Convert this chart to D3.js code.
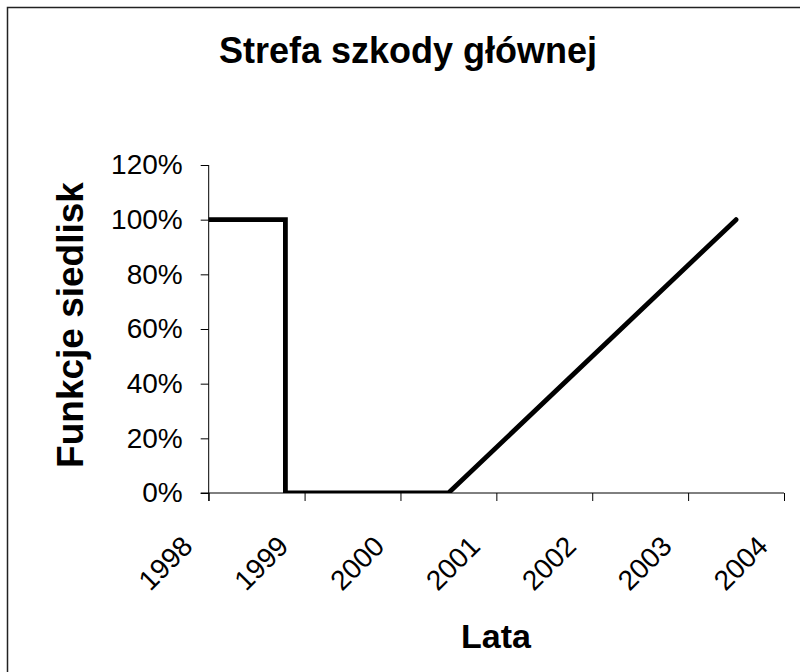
<!DOCTYPE html>
<html>
<head>
<meta charset="utf-8">
<script src="https://cdn.jsdelivr.net/npm/d3@7"></script>
<style>
  html, body { margin: 0; padding: 0; background: #fff; }
  svg { display: block; font-family: "Liberation Sans", Arial, sans-serif; }
</style>
</head>
<body>
<svg id="chart" width="800" height="672"></svg>
<script>
// Habitat function over time in the main damage zone
const years = [1998, 1998.8, 1998.8, 2000.5, 2003.5];
const habitatFunction = [1.0, 1.0, 0.0, 0.0, 1.0];
const yearTicks = [1998, 1999, 2000, 2001, 2002, 2003, 2004];
const percentTicks = [0, 0.2, 0.4, 0.6, 0.8, 1.0, 1.2];

const titleText = "Strefa szkody głównej";
const xTitle = "Lata";
const yTitle = "Funkcje siedlisk";

const svg = d3.select("#chart");
const W = 800, H = 672;
const plot = { left: 208.7, right: 784, top: 165, bottom: 493 };

// outer frame
svg.append("rect")
  .attr("x", 7.5).attr("y", 7.5)
  .attr("width", W).attr("height", H)
  .attr("fill", "none").attr("stroke", "#222").attr("stroke-width", 1.5);

const x = d3.scaleLinear().domain([1998, 2004]).range([plot.left, plot.right]);
const y = d3.scaleLinear().domain([0, 1.2]).range([plot.bottom, plot.top]);

// title
svg.append("text")
  .attr("x", 408).attr("y", 63)
  .attr("text-anchor", "middle")
  .attr("font-size", 36).attr("font-weight", "bold")
  .text(titleText);

// clip the series to the plot area
svg.append("clipPath").attr("id", "plotClip")
  .append("rect")
  .attr("x", plot.left).attr("y", plot.top - 10)
  .attr("width", plot.right - plot.left + 10)
  .attr("height", plot.bottom - plot.top + 10);

// y axis
const yAxis = d3.axisLeft(y)
  .tickValues(percentTicks)
  .tickFormat(d3.format(".0%"))
  .tickSize(8).tickPadding(18);
const gy = svg.append("g")
  .attr("transform", `translate(${plot.left},0)`)
  .call(yAxis);
gy.select(".domain").attr("stroke", "#000").attr("d", `M0,${plot.top}V${plot.bottom + 8}`);
gy.selectAll(".tick line").attr("stroke", "#000");
gy.selectAll(".tick text")
  .attr("font-size", 28).attr("fill", "#000")
  .attr("font-family", "Liberation Sans, Arial, sans-serif");

// x axis
const xAxis = d3.axisBottom(x)
  .tickValues(yearTicks)
  .tickFormat(d3.format("d"))
  .tickSize(8);
const gx = svg.append("g")
  .attr("transform", `translate(0,${plot.bottom})`)
  .call(xAxis);
gx.select(".domain").attr("stroke", "#000").attr("d", `M${plot.left - 8},0H${plot.right}`);
gx.selectAll(".tick line").attr("stroke", "#000");
gx.selectAll(".tick text")
  .attr("font-size", 28).attr("fill", "#000")
  .attr("font-family", "Liberation Sans, Arial, sans-serif")
  .attr("text-anchor", "end")
  .attr("y", 0).attr("dy", 0)
  .attr("transform", "translate(-15,55) rotate(-45)");

// series line
const line = d3.line()
  .x((d, i) => x(years[i]))
  .y(d => y(d));
svg.append("path")
  .attr("clip-path", "url(#plotClip)")
  .attr("d", line(habitatFunction))
  .attr("fill", "none")
  .attr("stroke", "#000")
  .attr("stroke-width", 4.8)
  .attr("stroke-linecap", "round")
  .attr("stroke-linejoin", "miter");

// axis titles
svg.append("text")
  .attr("x", 496).attr("y", 648)
  .attr("text-anchor", "middle")
  .attr("font-size", 34).attr("font-weight", "bold")
  .text(xTitle);

svg.append("text")
  .attr("transform", "translate(83,325) rotate(-90)")
  .attr("text-anchor", "middle")
  .attr("font-size", 37).attr("font-weight", "bold")
  .text(yTitle);
</script>
</body>
</html>
